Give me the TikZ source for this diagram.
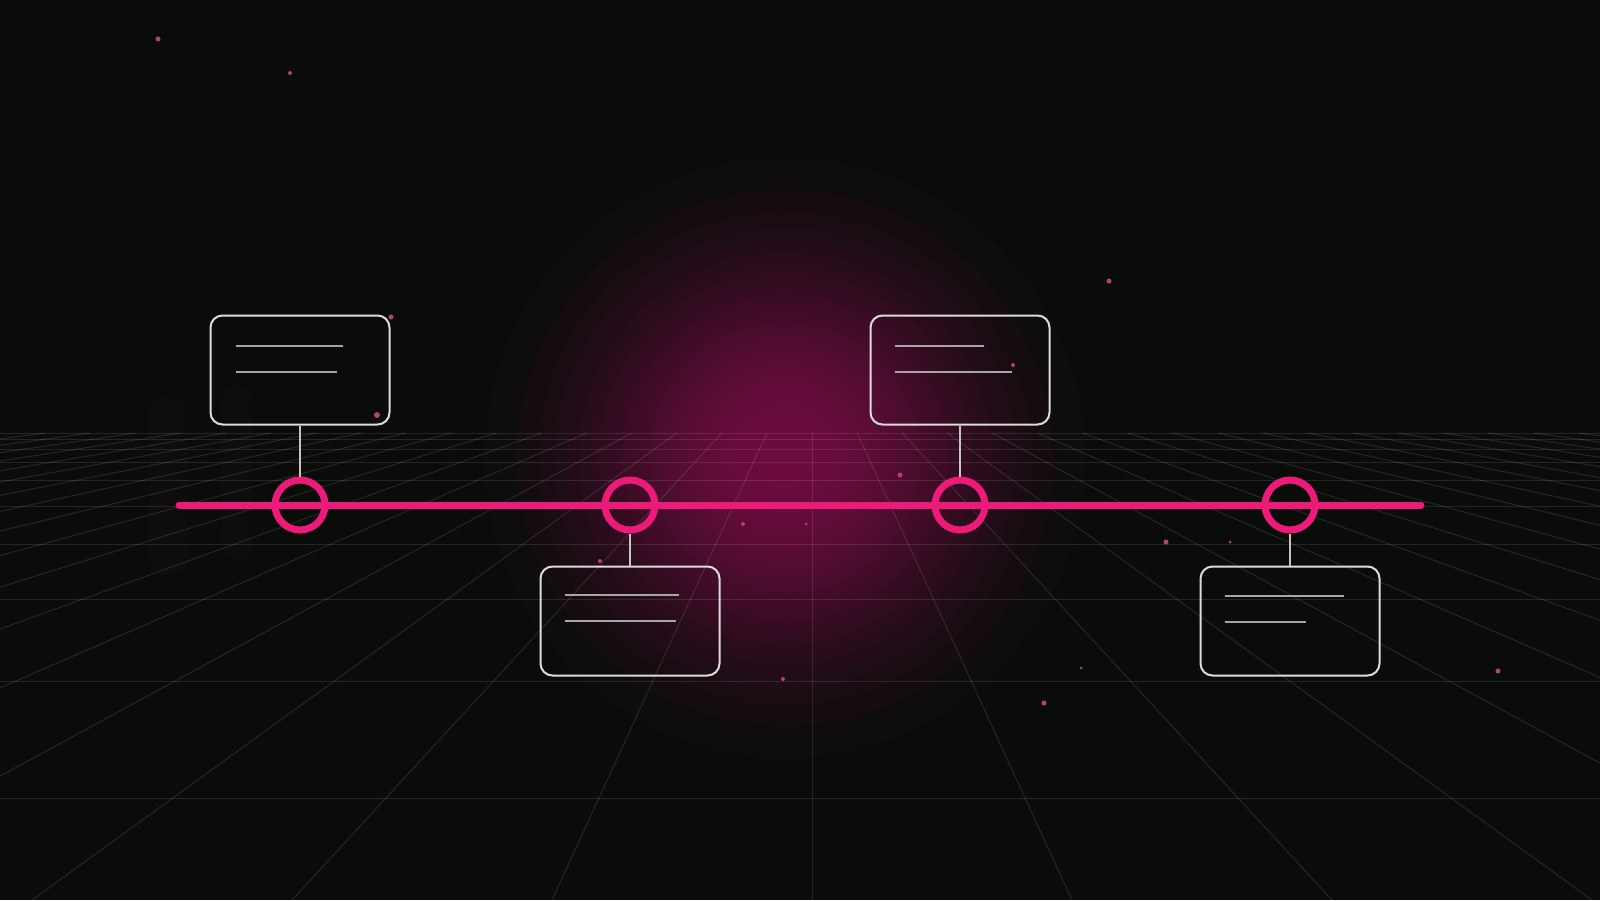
\documentclass[tikz,border=0pt]{standalone}
\usetikzlibrary{positioning}

\definecolor{bgdark}{HTML}{0A0C0A}
\definecolor{hotpink}{HTML}{EC1A78}
\definecolor{glowpink}{HTML}{B0276A}
\definecolor{boxline}{HTML}{DCDCDC}
\definecolor{stemgray}{HTML}{C4C4C4}
\definecolor{bargray}{HTML}{A6A6A6}
\definecolor{dotpink}{HTML}{B3426D}

\tikzset{
  gridline/.style={draw=white, draw opacity=0.11, line width=1pt},
  glowring/.style={fill=glowpink, fill opacity=0.035},
  timeline/.style={draw=hotpink, line width=7pt, line cap=round},
  milestone/.style={circle, draw=hotpink, line width=7pt, minimum size=50pt, inner sep=0pt},
  card/.style={rectangle, draw=boxline, line width=2pt, rounded corners=12pt,
    minimum width=179pt, minimum height=109pt, inner sep=0pt},
  stem/.style={draw=stemgray, line width=2pt},
  textbar/.style={draw=bargray, line width=2pt},
}

\begin{document}
\begin{tikzpicture}[x=1pt, y=-1pt, node distance=330pt]
        \useasboundingbox (0,0) rectangle (1600,900);
        \clip (0,0) rectangle (1600,900);

        % Background and glow
        \fill[bgdark] (0,0) rectangle (1600,900);
        \foreach \i in {1,...,29}
          \fill[glowring] (785,458) circle ({115*sqrt(2*ln(30/\i))});
        \fill[hotpink, opacity=0.025, rounded corners=15pt] (150,395) rectangle (188,575);
        \fill[hotpink, opacity=0.02, rounded corners=15pt] (222,385) rectangle (252,560);

        % Floor grid
        \foreach \k in {-18,...,18}
          \draw[gridline] ({812+45.1*\k},433) -- ({812+260*\k},900);
        \foreach \y in {433,439,449,462,480,506,544,599,681,798}
          \draw[gridline] (0,\y) -- (1600,\y);

        % Sparks
        \foreach \x/\y/\r in {158/39/2.5, 290/73/2, 391/317/2.5, 377/415/3, 1109/281/2.5,
            1013/365/2, 900/475/2.5, 743/524/2, 806/524/1.5, 1166/542/2.5, 1230/542/1.5,
            600/561/2, 783/679/2, 1081/668/1.5, 1044/703/2.5, 1498/671/2.5}
          \fill[dotpink] (\x,\y) circle (\r);

        % Timeline
        \coordinate (tstart) at (179,505);
        \coordinate (tend) at (1421,505);
        \draw[timeline] (tstart) -- (tend);

        % Milestones
        \node (m1) [milestone] at (300,505) {};
        \node (m2) [milestone, right of=m1] {};
        \node (m3) [milestone, right of=m2] {};
        \node (m4) [milestone, right of=m3] {};

        % Cards
        \node (b1) [card, above=51pt of m1] {};
        \node (b2) [card, below=32pt of m2] {};
        \node (b3) [card, above=51pt of m3] {};
        \node (b4) [card, below=32pt of m4] {};

        % Stems
        \draw[stem] (b1) -- (m1);
        \draw[stem] (m2) -- (b2);
        \draw[stem] (b3) -- (m3);
        \draw[stem] (m4) -- (b4);

        % Placeholder text bars
        \draw[textbar] ([shift={(26,31)}]b1.north west) -- ++(107,0);
        \draw[textbar] ([shift={(26,57)}]b1.north west) -- ++(101,0);
        \draw[textbar] ([shift={(25,29)}]b2.north west) -- ++(114,0);
        \draw[textbar] ([shift={(25,55)}]b2.north west) -- ++(111,0);
        \draw[textbar] ([shift={(25,31)}]b3.north west) -- ++(89,0);
        \draw[textbar] ([shift={(25,57)}]b3.north west) -- ++(117,0);
        \draw[textbar] ([shift={(25,30)}]b4.north west) -- ++(119,0);
        \draw[textbar] ([shift={(25,56)}]b4.north west) -- ++(81,0);
    \end{tikzpicture}
\end{document}
